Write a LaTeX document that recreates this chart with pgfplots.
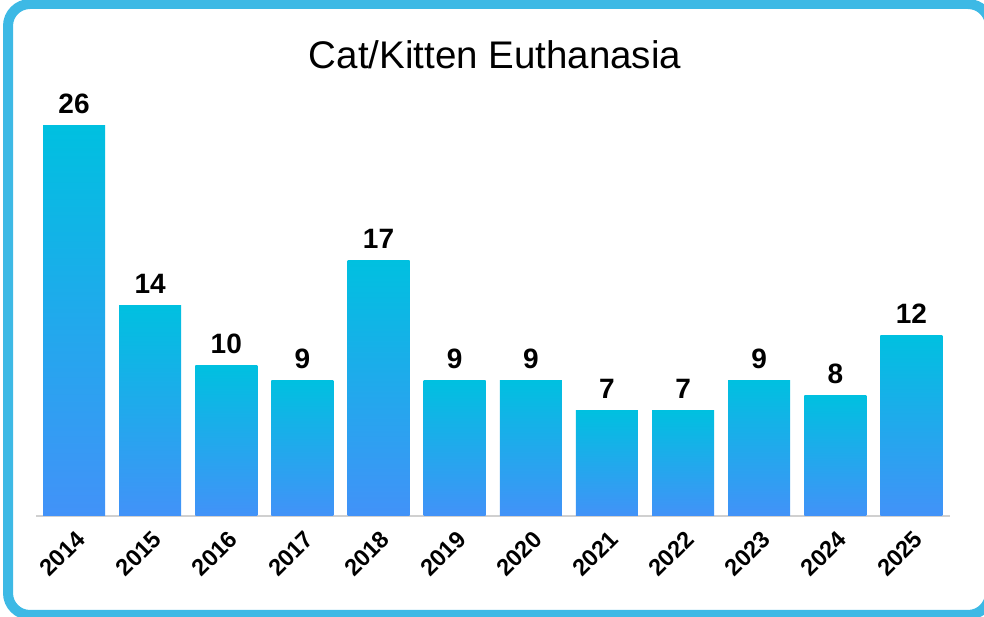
\documentclass[border=0pt]{standalone}
\usepackage{fontspec}
\setmainfont{Liberation Sans}
\usepackage{pgfplots}
\pgfplotsset{compat=1.18}
\definecolor{frameblue}{HTML}{3DB9E5}
\definecolor{bartop}{HTML}{00C0E0}
\definecolor{barbot}{HTML}{4292F8}
\definecolor{axisgray}{HTML}{D0D0D0}
\pgfplotsset{gradbar/.style={draw=none, top color=bartop, bottom color=barbot, bar shift=0pt}}
\begin{document}
\begin{tikzpicture}
\path[use as bounding box] (-36pt,-101pt) rectangle (948pt,516pt);
\begin{axis}[
  at={(0pt,0pt)}, anchor=south west,
  scale only axis,
  width=913.5pt, height=390pt,
  xmin=-0.5, xmax=11.5, ymin=0, ymax=26,
  clip=false,
  axis y line=none,
  axis x line*=bottom,
  x axis line style={-, draw=axisgray, line width=1.5pt},
  ytick=\empty,
  xtick={0,...,11},
  xticklabels={2014,2015,2016,2017,2018,2019,2020,2021,2022,2023,2024,2025},
  major tick length=0pt,
  xticklabel style={xshift=7pt, yshift=-19pt, rotate=45, anchor=east, inner sep=0pt,
    font=\fontsize{23.5}{26}\selectfont\bfseries},
  /pgf/number format/assume math mode=true,
  ybar, bar width=62pt,
  nodes near coords,
  nodes near coords style={font=\fontsize{28}{30}\selectfont\bfseries, inner sep=0pt, yshift=12pt, anchor=south},
]
\addplot[gradbar] coordinates {(0,26)};
\addplot[gradbar] coordinates {(1,14)};
\addplot[gradbar] coordinates {(2,10)};
\addplot[gradbar] coordinates {(3,9)};
\addplot[gradbar] coordinates {(4,17)};
\addplot[gradbar] coordinates {(5,9)};
\addplot[gradbar] coordinates {(6,9)};
\addplot[gradbar] coordinates {(7,7)};
\addplot[gradbar] coordinates {(8,7)};
\addplot[gradbar] coordinates {(9,9)};
\addplot[gradbar] coordinates {(10,8)};
\addplot[gradbar] coordinates {(11,12)};
\end{axis}
\node[anchor=base, font=\fontsize{38.5}{44}\selectfont] at (459pt,447pt) {Cat/Kitten Euthanasia};
\draw[frameblue, line width=10pt, rounded corners=22pt] (-28pt,-99pt) rectangle (954pt,512pt);
\end{tikzpicture}
\end{document}
